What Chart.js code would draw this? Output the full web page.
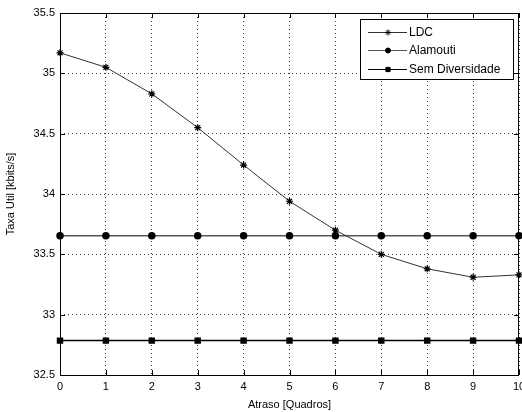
<!DOCTYPE html>
<html>
<head>
<meta charset="utf-8">
<script src="https://cdn.jsdelivr.net/npm/chart.js@4"></script>
<style>
  html, body { margin: 0; padding: 0; background: #fff; }
  #wrap { width: 522px; height: 412px; }
</style>
</head>
<body>
<div id="wrap"><canvas id="c" width="522" height="412"></canvas></div>
<script>
const atraso = [0, 1, 2, 3, 4, 5, 6, 7, 8, 9, 10];
const ldc = [35.17, 35.05, 34.83, 34.55, 34.24, 33.94, 33.70, 33.50, 33.38, 33.31, 33.33];
const alamouti = [33.655, 33.655, 33.655, 33.655, 33.655, 33.655, 33.655, 33.655, 33.655, 33.655, 33.655];
const semDiversidade = [32.785, 32.785, 32.785, 32.785, 32.785, 32.785, 32.785, 32.785, 32.785, 32.785, 32.785];
const yTicks = [32.5, 33, 33.5, 34, 34.5, 35, 35.5];

const FONT = 'Liberation Sans, Arial, sans-serif';
Chart.defaults.font.family = FONT;
Chart.defaults.font.size = 11;
Chart.defaults.color = '#000';

const toXY = arr => arr.map((v, i) => ({ x: atraso[i], y: v }));

// box, inward ticks and the legend, MATLAB-like
const matlabBox = {
  id: 'matlabBox',
  afterDraw(chart) {
    const { ctx, chartArea: a, scales } = chart;
    ctx.save();
    ctx.strokeStyle = '#000';
    ctx.lineWidth = 1;
    ctx.strokeRect(Math.round(a.left) + 0.5, Math.round(a.top) + 0.5,
      Math.round(a.right - a.left) - 1, Math.round(a.bottom - a.top));
    ctx.beginPath();
    atraso.forEach(v => {
      const x = Math.round(scales.x.getPixelForValue(v)) + 0.5;
      ctx.moveTo(x, a.bottom); ctx.lineTo(x, a.bottom - 5);
      ctx.moveTo(x, a.top); ctx.lineTo(x, a.top + 5);
    });
    yTicks.forEach(v => {
      const y = Math.round(scales.y.getPixelForValue(v)) + 0.5;
      ctx.moveTo(a.left, y); ctx.lineTo(a.left + 5, y);
      ctx.moveTo(a.right, y); ctx.lineTo(a.right - 5, y);
    });
    ctx.stroke();

    // legend
    const lx = 360, ly = 19, lw = 153, lh = 60;
    ctx.fillStyle = '#fff';
    ctx.fillRect(lx, ly, lw, lh);
    ctx.strokeRect(lx + 0.5, ly + 0.5, lw, lh);
    const rows = [32, 50, 69];
    chart.data.datasets.forEach((ds, i) => {
      const y = rows[i] + 0.5;
      ctx.strokeStyle = ds.borderColor;
      ctx.lineWidth = 1;
      ctx.beginPath(); ctx.moveTo(368, y); ctx.lineTo(407, y); ctx.stroke();
      ctx.fillStyle = ds.pointBackgroundColor;
      ctx.strokeStyle = ds.pointBorderColor;
      Chart.helpers.drawPoint(ctx, {
        pointStyle: ds.pointStyle, radius: ds.pointRadius - 0.5, borderWidth: 1
      }, 388, y);
      ctx.fillStyle = '#000';
      ctx.font = '12px ' + FONT;
      ctx.textBaseline = 'middle';
      ctx.fillText(ds.label, 409, y);
    });
    ctx.restore();
  }
};

new Chart(document.getElementById('c'), {
  type: 'line',
  data: {
    datasets: [
      {
        label: 'LDC',
        data: toXY(ldc),
        borderColor: '#333',
        borderWidth: 1,
        pointStyle: 'star',
        pointRadius: 3.5,
        pointBorderColor: '#000',
        pointBackgroundColor: '#000',
        pointBorderWidth: 1.2,
        clip: false
      },
      {
        label: 'Alamouti',
        data: toXY(alamouti),
        borderColor: '#555',
        borderWidth: 1.5,
        pointStyle: 'circle',
        pointRadius: 3,
        pointBorderColor: '#000',
        pointBackgroundColor: '#000',
        clip: false
      },
      {
        label: 'Sem Diversidade',
        data: toXY(semDiversidade),
        borderColor: '#000',
        borderWidth: 1.5,
        pointStyle: 'rect',
        pointRadius: 3.5,
        pointBorderColor: '#000',
        pointBackgroundColor: '#000',
        clip: false
      }
    ]
  },
  options: {
    responsive: false,
    animation: false,
    layout: { autoPadding: false, padding: { left: 4, top: 13, right: 3, bottom: 0 } },
    plugins: { legend: { display: false }, tooltip: { enabled: false } },
    scales: {
      x: {
        type: 'linear',
        min: 0,
        max: 10,
        afterBuildTicks: s => { s.ticks = atraso.map(v => ({ value: v })); },
        afterFit: s => {
          s.height = 37;
          s.getPadding = () => ({ left: 0, right: 0, top: 0, bottom: 0 });
        },
        grid: { color: '#444', drawTicks: false, lineWidth: 1 },
        border: { display: false, dash: [1, 3] },
        ticks: { padding: 5, maxRotation: 0, color: '#000', font: { size: 11 } },
        title: { display: true, text: 'Atraso [Quadros]', padding: { top: 0, bottom: 0 }, font: { size: 11 } }
      },
      y: {
        min: 32.5,
        max: 35.5,
        afterBuildTicks: s => { s.ticks = yTicks.map(v => ({ value: v })); },
        afterFit: s => { s.width = 56; },
        grid: { color: '#444', drawTicks: false, lineWidth: 1 },
        border: { display: false, dash: [1, 3] },
        ticks: { padding: 5, color: '#000', font: { size: 11 }, callback: v => String(v) },
        title: { display: true, text: 'Taxa Util [kbits/s]', padding: { top: 0, bottom: 0 }, font: { size: 11 } }
      }
    }
  },
  plugins: [matlabBox]
});
</script>
</body>
</html>
